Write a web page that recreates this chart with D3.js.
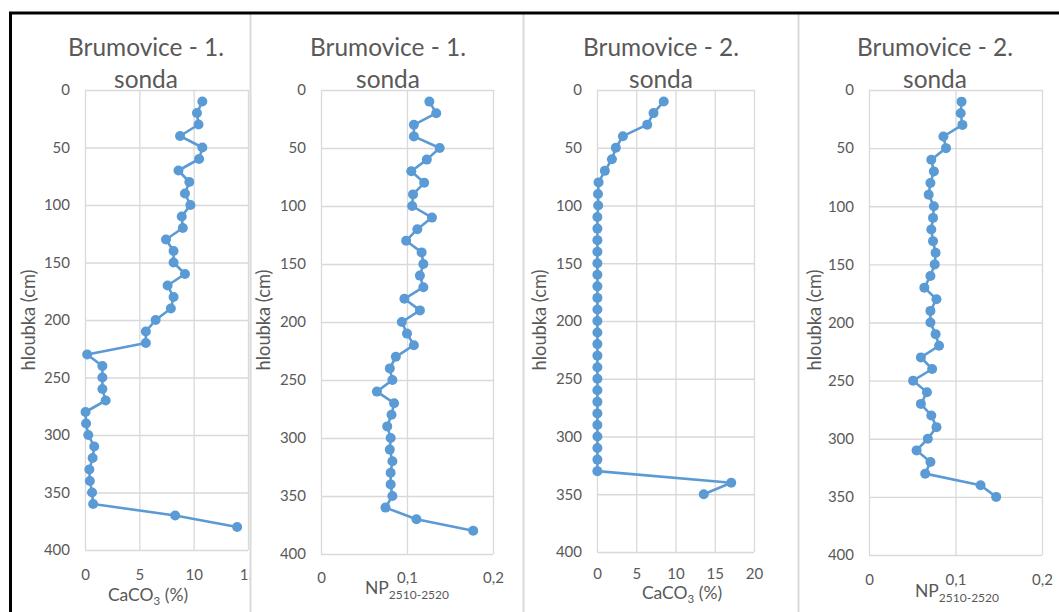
<!DOCTYPE html>
<html><head><meta charset="utf-8">
<script src="https://cdn.jsdelivr.net/npm/d3@7"></script>
<style>
html,body{margin:0;padding:0;background:#fff;}
text{font-family:Lato,"Open Sans",sans-serif;fill:#595959;}
</style></head>
<body><svg id="c" width="1059" height="612"></svg>
<script>
// ---- data ----
const depth1 = [10,20,30,40,50,60,70,80,90,100,110,120,130,140,150,160,170,180,190,200,210,220,230,240,250,260,270,280,290,300,310,320,330,340,350,360,370,380];
const caco3Sonda1 = [10.8,10.3,10.45,8.75,10.8,10.5,8.6,9.6,9.2,9.7,8.9,9.0,7.45,8.15,8.15,9.2,7.6,8.15,7.9,6.5,5.6,5.6,0.2,1.6,1.6,1.6,1.9,0.05,0.1,0.3,0.85,0.7,0.4,0.45,0.65,0.75,8.3,14.0];
const npSonda1 = [0.126,0.134,0.108,0.108,0.138,0.123,0.105,0.120,0.107,0.106,0.129,0.112,0.099,0.117,0.119,0.115,0.119,0.097,0.115,0.094,0.100,0.108,0.087,0.080,0.083,0.065,0.085,0.082,0.077,0.081,0.080,0.083,0.081,0.081,0.083,0.075,0.111,0.177];
const depth2 = [10,20,30,40,50,60,70,80,90,100,110,120,130,140,150,160,170,180,190,200,210,220,230,240,250,260,270,280,290,300,310,320,330,340,350];
const caco3Sonda2 = [8.5,7.2,6.4,3.3,2.4,1.9,1.0,0.2,0.13,0.15,0.05,0.05,0.05,0.05,0.05,0.05,0.05,0.05,0.05,0.05,0.05,0.05,0.05,0.05,0.05,0.05,0.05,0.05,0.05,0.05,0.05,0.05,0.05,17.1,13.6];
const npSonda2 = [0.107,0.106,0.108,0.086,0.089,0.072,0.075,0.071,0.069,0.075,0.074,0.072,0.074,0.077,0.076,0.071,0.064,0.078,0.071,0.071,0.077,0.081,0.060,0.073,0.051,0.067,0.060,0.072,0.078,0.068,0.055,0.071,0.065,0.129,0.147];
const titles = ["Brumovice - 1.","Brumovice - 1.","Brumovice - 2.","Brumovice - 2."];
const yTicks = [0,50,100,150,200,250,300,350,400];
const xTicksCaco3a = [0,5,10,15];
const xTicksCaco3b = [0,5,10,15,20];
const xTicksNP = [0,0.1,0.2];
const yTitle = "hloubka (cm)";

// ---- layout ----
const panels = [
  {depth:depth1, vals:caco3Sonda1, dom:[0,15], ticks:xTicksCaco3a, kind:"caco3", clip:[11,250], L:85, R:248, T:90, B:550, tc:146, yt:29, xc:148, xty:601, tly:575},
  {depth:depth1, vals:npSonda1, dom:[0,0.2], ticks:xTicksNP, kind:"np", clip:[251,523], L:321, R:493, T:90, B:554, tc:388, yt:264, xc:407, xty:594, tly:578},
  {depth:depth2, vals:caco3Sonda2, dom:[0,20], ticks:xTicksCaco3b, kind:"caco3", clip:[524,798], L:597, R:754, T:90, B:552, tc:661, yt:540, xc:682, xty:599, tly:574},
  {depth:depth2, vals:npSonda2, dom:[0,0.2], ticks:xTicksNP, kind:"np", clip:[799,1059], L:869, R:1042, T:90, B:555, tc:935, yt:815, xc:957, xty:597, tly:580}
];

const svg = d3.select("#c");
const defs = svg.append("defs");
const blue = "#5B9BD5", grid = "#D9D9D9";

function fit(sel, target){
  const w = sel.node().getComputedTextLength();
  const fs = parseFloat(sel.attr("font-size"));
  sel.attr("font-size", fs*target/w);
}

panels.forEach((p,i)=>{
  defs.append("clipPath").attr("id","cp"+i).append("rect")
    .attr("x",p.clip[0]).attr("y",0).attr("width",p.clip[1]-p.clip[0]).attr("height",612);
  const g = svg.append("g").attr("clip-path",`url(#cp${i})`);
  const x = d3.scaleLinear().domain(p.dom).range([p.L,p.R]);
  const y = d3.scaleLinear().domain([0,400]).range([p.T,p.B]);

  // gridlines
  const gx = g.append("g").attr("transform",`translate(0,${p.T})`)
    .call(d3.axisTop(x).tickValues(p.ticks).tickSize(-(p.B-p.T)).tickFormat(""));
  const gy = g.append("g").attr("transform",`translate(${p.L},0)`)
    .call(d3.axisLeft(y).tickValues(yTicks).tickSize(-(p.R-p.L)).tickFormat(""));
  [gx,gy].forEach(a=>{a.select(".domain").remove(); a.selectAll("line").attr("stroke",grid).attr("stroke-width",1.3);});

  // tick labels
  const fmt = d=> String(d).replace(".",",");
  const xl = g.append("g").attr("transform",`translate(0,${p.tly})`)
    .call(d3.axisBottom(x).tickValues(p.ticks).tickSize(0).tickPadding(0).tickFormat(fmt));
  xl.select(".domain").remove();
  xl.selectAll("text").attr("font-size",15).attr("dy","0.35em").attr("fill","#595959").attr("font-family","Lato");
  const yl = g.append("g").attr("transform",`translate(${p.L-15},0)`)
    .call(d3.axisLeft(y).tickValues(yTicks).tickSize(0).tickPadding(0));
  yl.select(".domain").remove();
  yl.selectAll("text").attr("font-size",15).attr("fill","#595959").attr("font-family","Lato");

  // line + markers
  const pts = p.depth.map((d,k)=>[p.vals[k],d]);
  g.append("path").datum(pts).attr("fill","none").attr("stroke",blue).attr("stroke-width",2.6)
    .attr("stroke-linejoin","round")
    .attr("d", d3.line().x(d=>x(d[0])).y(d=>y(d[1])));
  g.selectAll("circle.m").data(pts).join("circle").attr("class","m")
    .attr("cx",d=>x(d[0])).attr("cy",d=>y(d[1])).attr("r",5).attr("fill",blue);

  // title
  const t1 = g.append("text").attr("x",p.tc).attr("y",56).attr("text-anchor","middle").attr("font-size",24).text(titles[i]);
  fit(t1,156);
  const fsT = t1.attr("font-size");
  g.append("text").attr("x",p.tc).attr("y",88).attr("text-anchor","middle").attr("font-size",fsT).text("sonda");

  // y title
  const yt = g.append("text").attr("transform",`translate(${p.yt},320) rotate(-90)`)
    .attr("text-anchor","middle").attr("dy","0.35em").attr("font-size",17).text(yTitle);
  fit(yt,101);

  // x title
  const xt = g.append("text").attr("x",p.xc).attr("y",p.xty).attr("text-anchor","middle").attr("font-size",17.5);
  if(p.kind==="caco3"){
    xt.append("tspan").text("CaCO");
    xt.append("tspan").attr("font-size",11.5).attr("dy",4).text("3");
    xt.append("tspan").attr("dy",-4).text(" (%)");
  } else {
    xt.append("tspan").text("NP");
    xt.append("tspan").attr("font-size",12).attr("dy",5).text("2510-2520");
  }
});

// panel separators
[250.5,523.5,798.5].forEach(sx=>{
  svg.append("line").attr("x1",sx).attr("x2",sx).attr("y1",14).attr("y2",612).attr("stroke",grid).attr("stroke-width",2);
});
// outer black border
svg.append("path").attr("d","M10.5,612V13H1059").attr("fill","none").attr("stroke","#000").attr("stroke-width",3);
</script></body></html>
